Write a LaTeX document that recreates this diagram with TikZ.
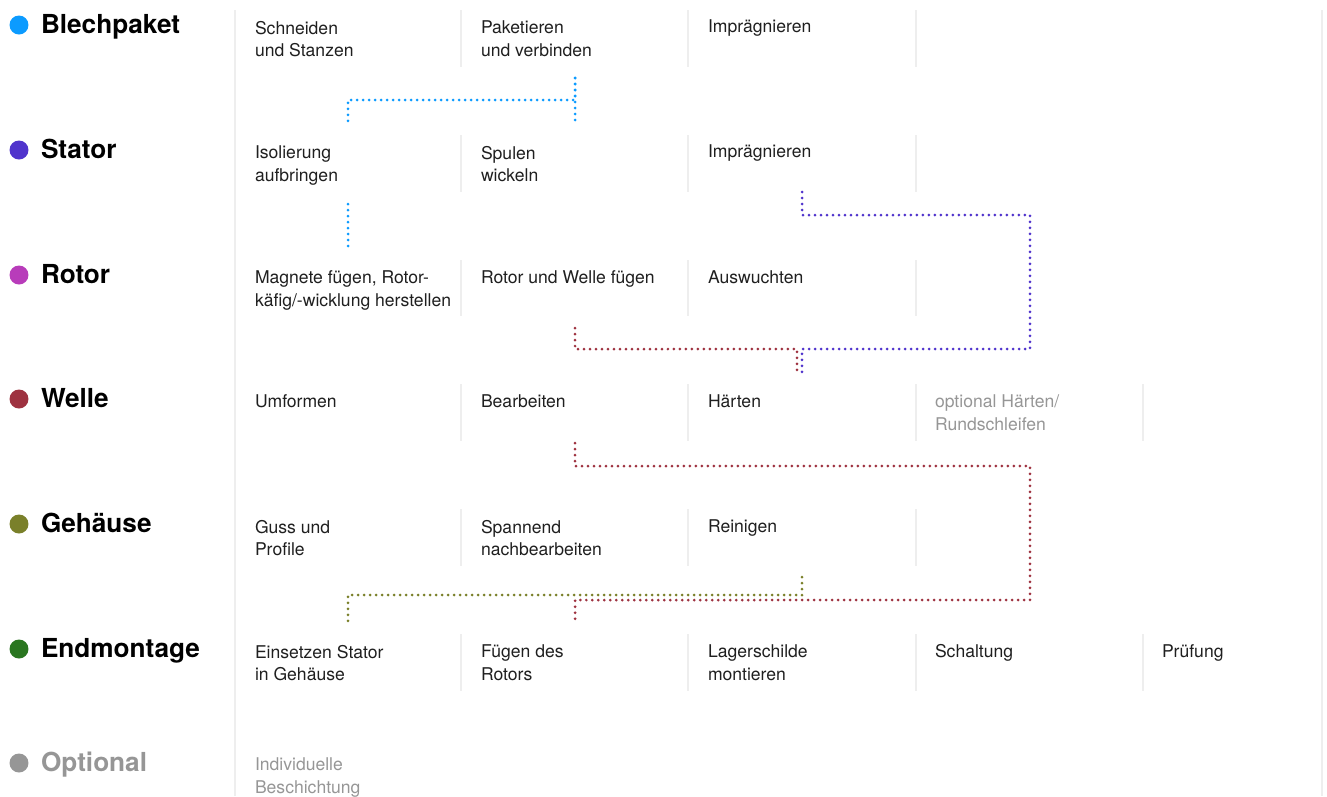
\documentclass[tikz,border=0pt]{standalone}
\usepackage{fontspec}
\setmainfont{TeX Gyre Heros}
\definecolor{blech}{RGB}{12,155,255}
\definecolor{stator}{RGB}{80,52,204}
\definecolor{rotor}{RGB}{184,60,186}
\definecolor{welle}{RGB}{158,50,64}
\definecolor{gehaeuse}{RGB}{122,128,42}
\definecolor{endmont}{RGB}{42,118,32}
\definecolor{optgray}{RGB}{150,150,150}
\definecolor{rulegray}{RGB}{238,238,238}

\begin{document}
\begin{tikzpicture}[x=0.02cm, y=-0.02cm,
  every node/.style={inner sep=0pt, outer sep=0pt},
  dot/.style={circle, minimum size=0.38cm},
  title/.style={anchor=base west, font=\fontsize{14.9}{17}\selectfont\bfseries},
  cell/.style={anchor=north west, align=left, font=\fontsize{10}{13}\selectfont, text=black!88,
    execute at begin node=\strut},
  optcell/.style={cell, text=optgray},
  sep/.style={rulegray, line width=0.04cm},
  flow/.style={line width=0.06cm, line cap=round, dash pattern=on 0pt off 0.12cm}]
\useasboundingbox (0,0) rectangle (1327,796);

\draw[sep] (235,10) -- (235,796);
\draw[sep] (1322,10) -- (1322,796);

\node[dot, fill=blech] (dbp) at (19,25) {};
\node[dot, fill=stator] (dst) at (19,150) {};
\node[dot, fill=rotor] (dro) at (19,275) {};
\node[dot, fill=welle] (dwe) at (19,399) {};
\node[dot, fill=gehaeuse] (dge) at (19,524) {};
\node[dot, fill=endmont] (dem) at (19,649) {};
\node[dot, fill=optgray] (dop) at (19,763) {};

\node[title] (tbp) at (41,33) {Blechpaket};
\node[title] (tst) at (41,158) {Stator};
\node[title] (tro) at (41,283) {Rotor};
\node[title] (twe) at (41,407) {Welle};
\node[title] (tge) at (41,532) {Gehäuse};
\node[title] (tem) at (41,657) {Endmontage};
\node[title, text=optgray] (top) at (41,771) {Optional};

\node[cell] (bp1) at (255,21) {Schneiden\\und Stanzen};
\node[cell] (bp2) at (481,21) {Paketieren\\und verbinden};
\node[cell] (bp3) at (708,17) {Imprägnieren};
\draw[sep] (461,10) -- (461,67);
\draw[sep] (688,10) -- (688,67);
\draw[sep] (916,10) -- (916,67);

\node[cell] (st1) at (255,146) {Isolierung\\aufbringen};
\node[cell] (st2) at (481,146) {Spulen\\wickeln};
\node[cell] (st3) at (708,142) {Imprägnieren};
\draw[sep] (461,135) -- (461,192);
\draw[sep] (688,135) -- (688,192);
\draw[sep] (916,135) -- (916,192);

\node[cell] (ro1) at (255,271) {Magnete fügen, Rotor-\\käfig/-wicklung herstellen};
\node[cell] (ro2) at (481,267) {Rotor und Welle fügen};
\node[cell] (ro3) at (708,267) {Auswuchten};
\draw[sep] (461,260) -- (461,316);
\draw[sep] (688,260) -- (688,316);
\draw[sep] (916,260) -- (916,316);

\node[cell] (we1) at (255,391) {Umformen};
\node[cell] (we2) at (481,391) {Bearbeiten};
\node[cell] (we3) at (708,391) {Härten};
\node[optcell] (we4) at (935,395) {optional Härten/\\Rundschleifen};
\draw[sep] (461,384) -- (461,441);
\draw[sep] (688,384) -- (688,441);
\draw[sep] (916,384) -- (916,441);
\draw[sep] (1143,384) -- (1143,441);

\node[cell] (ge1) at (255,520) {Guss und\\Profile};
\node[cell] (ge2) at (481,520) {Spannend\\nachbearbeiten};
\node[cell] (ge3) at (708,516) {Reinigen};
\draw[sep] (461,509) -- (461,566);
\draw[sep] (688,509) -- (688,566);
\draw[sep] (916,509) -- (916,566);

\node[cell] (em1) at (255,645) {Einsetzen Stator\\in Gehäuse};
\node[cell] (em2) at (481,645) {Fügen des\\Rotors};
\node[cell] (em3) at (708,645) {Lagerschilde\\montieren};
\node[cell] (em4) at (935,641) {Schaltung};
\node[cell] (em5) at (1162,641) {Prüfung};
\draw[sep] (461,634) -- (461,691);
\draw[sep] (688,634) -- (688,691);
\draw[sep] (916,634) -- (916,691);
\draw[sep] (1143,634) -- (1143,691);

\node[optcell] (op1) at (255,758) {Individuelle\\Beschichtung};

\coordinate (bp2-out) at (575,78);
\coordinate (st1-in) at (348,124);
\coordinate (st2-in) at (575,124);
\coordinate (st1-out) at (348,204);
\coordinate (ro1-in) at (348,247);
\coordinate (st3-out) at (802,192);
\coordinate (we3-in) at (802,372);
\coordinate (ro2-out) at (575,328);
\coordinate (we3-in2) at (797,372);
\coordinate (we2-out) at (575,443);
\coordinate (em2-in) at (575,623);
\coordinate (ge3-out) at (802,577);
\coordinate (em1-in) at (348,623);

\draw[flow, blech] (bp2-out) -- (st2-in);
\draw[flow, blech] (bp2-out) -- ++(0,22) -| (st1-in);
\draw[flow, blech] (st1-out) -- (ro1-in);
\draw[flow, stator] (st3-out) -- ++(0,23) -| ++(228,134) -| (we3-in);
\draw[flow, welle] (ro2-out) -- ++(0,21) -| (we3-in2);
\draw[flow, welle] (we2-out) -- ++(0,23) -| ++(455,134) -| (em2-in);
\draw[flow, gehaeuse] (ge3-out) -- ++(0,18) -| (em1-in);
\end{tikzpicture}
\end{document}
